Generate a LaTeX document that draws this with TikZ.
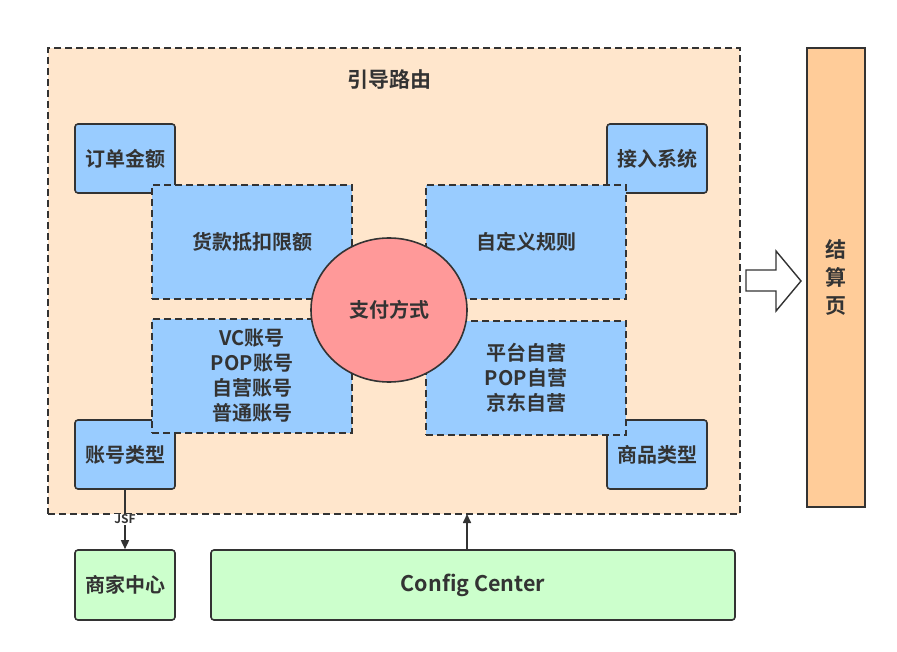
\documentclass[tikz,border=0pt]{standalone}
\usepackage{fontspec}
\setmainfont{Noto Sans CJK SC}[BoldFont={* Bold}]
\newfontfamily\cjkb{Noto Sans CJK SC Bold}
\usetikzlibrary{arrows.meta,shapes.geometric}
\definecolor{ln}{HTML}{333333}
\definecolor{peach}{HTML}{FFE6CC}
\definecolor{bluef}{HTML}{99CCFF}
\definecolor{redf}{HTML}{FF9999}
\definecolor{orangef}{HTML}{FFCC99}
\definecolor{greenf}{HTML}{CCFFCC}
\begin{document}
\begin{tikzpicture}[x=1pt,y=-1pt,
  every node/.style={font=\cjkb\fontsize{20}{25}\selectfont, text=ln, align=center, inner sep=0pt},
  corner/.style={draw=ln, line width=1.6pt, fill=bluef, rounded corners=3pt, minimum width=100pt, minimum height=69pt},
  dbox/.style={draw=ln, line width=1.6pt, fill=bluef, dash pattern=on 7pt off 4pt, minimum width=200pt, minimum height=114pt},
  gbox/.style={draw=ln, line width=1.6pt, fill=greenf, rounded corners=3pt, minimum height=70pt},
  conn/.style={draw=ln, line width=1.6pt, -{Triangle[length=9pt,width=8pt]}}]
\useasboundingbox (0,0) rectangle (897,652);
% outer box
\node[draw=ln, line width=1.6pt, fill=peach, dash pattern=on 7pt off 4pt, minimum width=692pt, minimum height=466pt] (outer) at (394,281) {};
\node[font=\cjkb\fontsize{21}{25}\selectfont] (title) at (389,80) {引导路由};
% corner boxes
\node[corner] (dd) at (125,158.5) {订单金额};
\node[corner] (jr) at (657,158.5) {接入系统};
\node[corner] (zh) at (125,454.5) {账号类型};
\node[corner] (sp) at (657,454.5) {商品类型};
% dashed boxes
\node[dbox] (hk) at (252,242) {货款抵扣限额};
\node[dbox] (zd) at (526,242) {自定义规则};
\node[dbox] (vc) at (252,376) {VC账号\\POP账号\\自营账号\\普通账号};
\node[dbox] (pt) at (526,378) {平台自营\\POP自营\\京东自营};
% circle
\node[draw=ln, line width=1.6pt, fill=redf, ellipse, minimum width=156pt, minimum height=144pt] (zf) at (389,310) {支付方式};
% settlement
\node[draw=ln, line width=1.6pt, fill=orangef, minimum width=58pt, minimum height=459pt] (js) at (836,277.5) {};
\node[font=\cjkb\fontsize{21}{28}\selectfont] (jst) at (836,278) {结\\算\\页};
% big arrow
\draw[ln, line width=1.4pt, fill=white] (746,270) -- (776,270) -- (776,251) -- (801,281) -- (776,311) -- (776,291) -- (746,291) -- cycle;
% bottom boxes
\node[gbox, minimum width=100pt] (sj) at (125,585) {商家中心};
\node[gbox, minimum width=524pt, font=\cjkb\fontsize{21.5}{25}\selectfont] (cc) at (473,585) {Config Center};
% connectors
\draw[conn] (zh.south) -- node[fill=white, font=\cjkb\fontsize{12}{13}\selectfont, inner sep=1pt, pos=0.5] (jsf) {JSF} (sj.north);
\coordinate (ob) at (467,514);
\draw[conn] (cc.north -| ob) -- (ob);
\end{tikzpicture}
\end{document}
